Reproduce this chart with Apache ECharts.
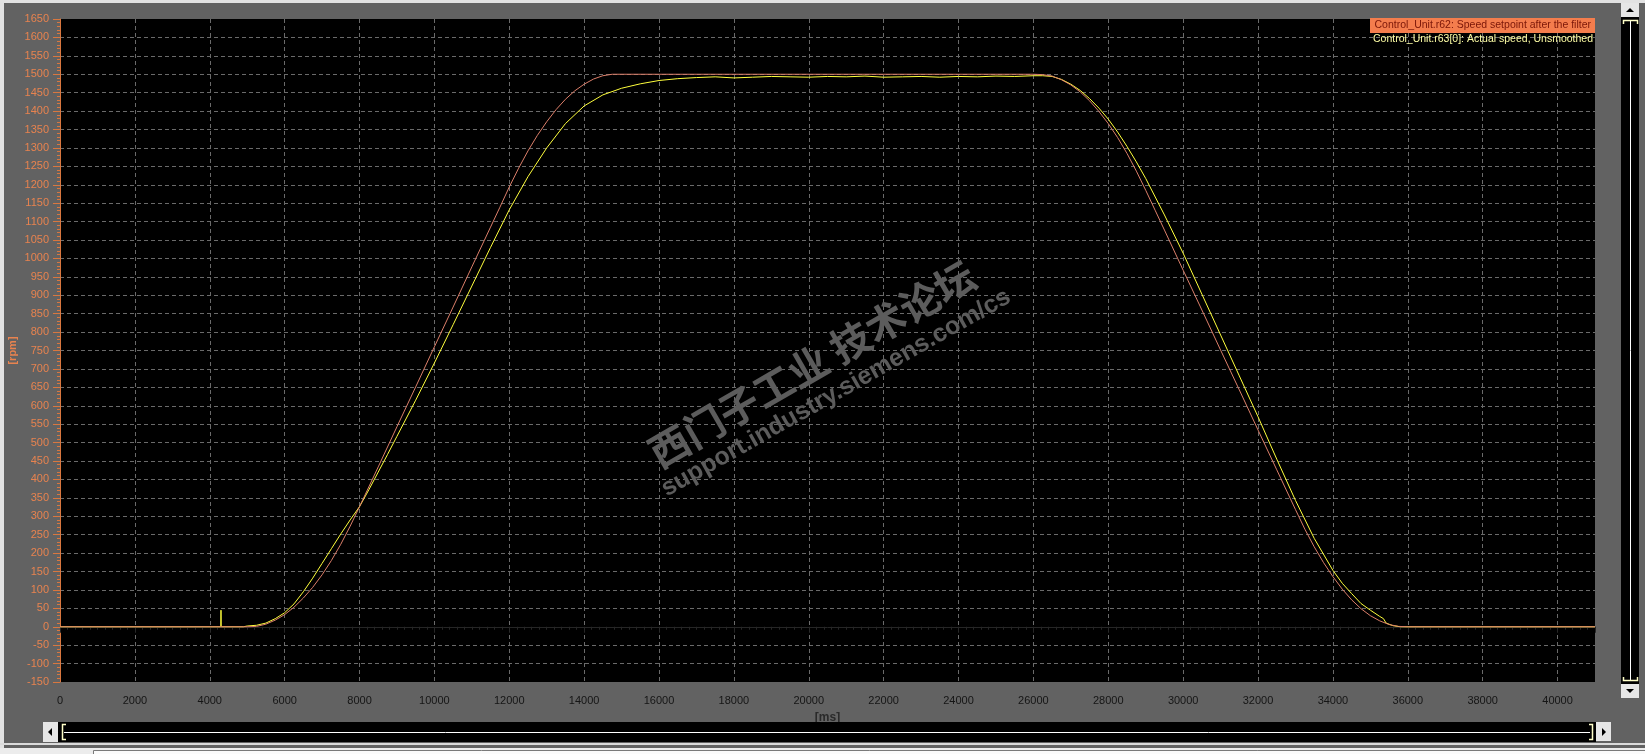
<!DOCTYPE html>
<html>
<head>
<meta charset="utf-8">
<script src="https://cdn.jsdelivr.net/npm/echarts@6/dist/echarts.min.js"></script>
<style>
html,body{margin:0;padding:0;background:#626262;}
#chart{width:1645px;height:754px;}
</style>
</head>
<body>
<div id="chart"></div>
<script>
// Legend / series names
var seriesNames = [
  'Control_Unit.r62: Speed setpoint after the filter',
  'Control_Unit.r63[0]: Actual speed, Unsmoothed'
];
// Setpoint (r62) : time [ms] and speed [rpm]
var setTimes = [0, 5000, 5250, 5500, 5750, 6000, 6250, 6500, 6750, 7000, 7250, 7500, 7750, 8000,
  8500, 9000, 9500, 10000, 10500, 11000, 11500,
  11750, 12000, 12250, 12500, 12750, 13000, 13250, 13500, 13750, 14000, 14250, 14500, 14750,
  26000, 26250, 26500, 26750, 27000, 27250, 27500, 27750, 28000, 28250, 28500, 28750, 29000, 29250, 29500,
  30000, 30500, 31000, 31500, 32000, 32500, 33000,
  33250, 33500, 33750, 34000, 34250, 34500, 34750, 35000, 35250, 35500, 35750, 36000, 41000];
var setRpm = [0, 0, 1, 7, 18, 33, 53, 78, 107, 141, 180, 224, 273, 326,
  434, 543, 651, 760, 868, 977, 1085,
  1139, 1194, 1245, 1292, 1334, 1371, 1404, 1432, 1455, 1473, 1487, 1496, 1500,
  1500, 1499, 1495, 1485, 1471, 1452, 1428, 1399, 1366, 1328, 1285, 1237, 1185, 1131, 1077,
  968, 860, 751, 643, 534, 426, 318,
  265, 217, 174, 136, 102, 73, 49, 30, 16, 6, 1, 0, 0];
// Actual speed (r63[0]) : time [ms] and speed [rpm]
var actTimes = [0, 4295, 4300, 4305, 4900,
  5000, 5250, 5500, 5750, 6000, 6250, 6500, 6750, 7000, 7250, 7500, 7750, 8000,
  8250, 8500, 8750, 9000,
  9500, 10000, 10500, 11000, 11500, 12000, 12500, 13000, 13500, 14000, 14500, 15000, 15500, 16000, 16500, 17000, 17500, 18000,
  18500, 19000, 19500, 20000, 20500, 21000, 21500, 22000, 22500, 23000, 23500, 24000, 24500, 25000, 25500, 26000,
  26250, 26500, 26750, 27000, 27250, 27500, 27750, 28000, 28250, 28500, 28750, 29000,
  29500, 30000, 30500, 31000, 31500, 32000, 32500, 33000, 33500, 34000,
  34250, 34500, 34750, 35000, 35250,
  35350, 35420, 35600, 35800, 41000];
var actRpm = [0, 0, 45, 0, 0,
  2, 4, 10, 22, 38, 62, 95, 132, 172, 212, 252, 290, 326,
  372, 420, 468, 517,
  615, 716, 820, 925, 1030, 1132, 1222, 1300, 1366, 1414, 1444, 1462, 1474, 1483, 1488, 1491, 1493, 1490,
  1492, 1494, 1493, 1492, 1494, 1493, 1495, 1492, 1493, 1494, 1492, 1494, 1493, 1495, 1494, 1496,
  1496, 1494, 1486, 1473, 1456, 1434, 1408, 1378, 1343, 1304, 1262, 1217,
  1118, 1014, 903, 792, 681, 570, 455, 343, 240, 153,
  118, 90, 63, 45, 28,
  22, 10, 3, 0, 0];
// Axis ranges
var xRange = [0, 41000, 2000];
var yRange = [-150, 1650, 50];
var axisNames = ['[ms]', '[rpm]'];
var watermark = ['西门子工业 技术论坛', 'support.industry.siemens.com/cs'];

function zip(a, b) { return a.map(function (t, i) { return [t, b[i]]; }); }
function plain(v) { return String(v); }

var FONT = '"Liberation Sans", Arial, sans-serif';
var orange = '#e8834f';
var gridColor = '#6a6a6a';

var chart = echarts.init(document.getElementById('chart'), null, {renderer: 'canvas'});
chart.setOption({
  animation: false,
  backgroundColor: '#626262',
  grid: {left: 60, top: 19, right: 50, bottom: 72, show: true, containLabel: false,
    outerBoundsMode: 'none', backgroundColor: '#000', borderWidth: 0},
  xAxis: {
    type: 'value', min: xRange[0], max: xRange[1], interval: xRange[2], offset: 4,
    name: axisNames[0], nameLocation: 'middle', nameGap: 26, nameMoveOverlap: false,
    nameTextStyle: {color: '#2a2a2a', fontSize: 12, fontWeight: 'bold', fontFamily: FONT},
    axisLine: {show: true, lineStyle: {color: '#262626', width: 1}},
    axisTick: {show: true, length: 6, lineStyle: {color: '#262626'}},
    minorTick: {show: true, splitNumber: 10, length: 3, lineStyle: {color: '#262626'}},
    axisLabel: {color: '#151515', fontSize: 11, fontFamily: FONT, margin: 9, showMaxLabel: false, formatter: plain},
    splitLine: {show: true, showMinLine: false, showMaxLine: false,
      lineStyle: {color: gridColor, width: 1, type: [4, 3]}}
  },
  yAxis: {
    type: 'value', min: yRange[0], max: yRange[1], interval: yRange[2], offset: 2,
    name: axisNames[1], nameLocation: 'middle', nameGap: 40, nameMoveOverlap: false,
    nameTextStyle: {color: orange, fontSize: 11, fontWeight: 'bold', fontFamily: FONT},
    axisLine: {show: true, lineStyle: {color: '#d9773f', width: 1}},
    axisTick: {show: true, length: 7, lineStyle: {color: '#d9773f'}},
    minorTick: {show: true, splitNumber: 5, length: 3, lineStyle: {color: '#d9773f'}},
    axisLabel: {color: orange, fontSize: 11, fontFamily: FONT, margin: 9, formatter: plain},
    splitLine: {show: true, showMinLine: false, showMaxLine: false,
      lineStyle: {color: gridColor, width: 1, type: [4, 3]}}
  },
  series: [
    {name: seriesNames[1], type: 'line', data: zip(actTimes, actRpm), showSymbol: false,
      lineStyle: {color: '#ffff3c', width: 1}, itemStyle: {color: '#ffff3c'}, z: 3},
    {name: seriesNames[0], type: 'line', data: zip(setTimes, setRpm), showSymbol: false,
      lineStyle: {color: '#dc7f6a', width: 1}, itemStyle: {color: '#dc7f6a'}, z: 4}
  ],
  graphic: [
    // window frame
    {type: 'rect', shape: {x: 0, y: 0, width: 1645, height: 3}, style: {fill: '#e2e2e2'}, z: 10, silent: true},
    {type: 'rect', shape: {x: 0, y: 0, width: 4, height: 754}, style: {fill: '#e2e2e2'}, z: 10, silent: true},
    {type: 'rect', shape: {x: 0, y: 743, width: 1645, height: 2}, style: {fill: '#dadada'}, z: 10, silent: true},
    {type: 'rect', shape: {x: 0, y: 748, width: 1645, height: 6}, style: {fill: '#ececec'}, z: 10, silent: true},
    {type: 'rect', shape: {x: 93.5, y: 750.5, width: 1560, height: 10}, style: {fill: '#fbfbfb', stroke: '#7a7a7a', lineWidth: 1}, z: 11, silent: true},
    // horizontal scrollbar
    {type: 'rect', shape: {x: 58, y: 722, width: 1538, height: 20}, style: {fill: '#000'}, z: 10, silent: true},
    {type: 'line', shape: {x1: 64, y1: 732.5, x2: 1590, y2: 732.5}, style: {stroke: '#ffffff', lineWidth: 1}, z: 11, silent: true},
    {type: 'polyline', shape: {points: [[66, 724.5], [62.5, 724.5], [62.5, 739.5], [66, 739.5]]}, style: {stroke: '#ffffc8', lineWidth: 1.5, fill: null}, z: 11, silent: true},
    {type: 'polyline', shape: {points: [[1589, 724.5], [1592.5, 724.5], [1592.5, 739.5], [1589, 739.5]]}, style: {stroke: '#ffffc8', lineWidth: 1.5, fill: null}, z: 11, silent: true},
    {type: 'rect', shape: {x: 43, y: 722, width: 15, height: 20}, style: {fill: '#e6e6e6'}, z: 11, silent: true},
    {type: 'polygon', shape: {points: [[52, 728], [52, 736], [48, 732]]}, style: {fill: '#000'}, z: 12, silent: true},
    {type: 'rect', shape: {x: 1596, y: 722, width: 15, height: 19}, style: {fill: '#e6e6e6'}, z: 11, silent: true},
    {type: 'polygon', shape: {points: [[1602, 728], [1602, 736], [1606, 732]]}, style: {fill: '#000'}, z: 12, silent: true},
    // vertical scrollbar
    {type: 'rect', shape: {x: 1621, y: 17, width: 18, height: 667}, style: {fill: '#000'}, z: 10, silent: true},
    {type: 'line', shape: {x1: 1630.5, y1: 21, x2: 1630.5, y2: 680}, style: {stroke: '#ffffff', lineWidth: 1}, z: 11, silent: true},
    {type: 'polyline', shape: {points: [[1623.5, 24], [1623.5, 20.5], [1637.5, 20.5], [1637.5, 24]]}, style: {stroke: '#ffffc8', lineWidth: 1.5, fill: null}, z: 11, silent: true},
    {type: 'polyline', shape: {points: [[1623.5, 677], [1623.5, 680.5], [1637.5, 680.5], [1637.5, 677]]}, style: {stroke: '#ffffc8', lineWidth: 1.5, fill: null}, z: 11, silent: true},
    {type: 'rect', shape: {x: 1621, y: 3, width: 18, height: 14}, style: {fill: '#e6e6e6'}, z: 11, silent: true},
    {type: 'polygon', shape: {points: [[1626, 12], [1634, 12], [1630, 8]]}, style: {fill: '#000'}, z: 12, silent: true},
    {type: 'rect', shape: {x: 1621, y: 684, width: 18, height: 14}, style: {fill: '#e6e6e6'}, z: 11, silent: true},
    {type: 'polygon', shape: {points: [[1626, 689], [1634, 689], [1630, 693]]}, style: {fill: '#000'}, z: 12, silent: true},
    // legend
    {type: 'rect', shape: {x: 1370, y: 18, width: 225, height: 15}, style: {fill: '#f47d4d'}, z: 10, silent: true},
    {type: 'text', x: 1591, y: 25.5, style: {text: seriesNames[0], fill: '#7a1608', font: '10.5px ' + FONT, textAlign: 'right', textVerticalAlign: 'middle'}, z: 11, silent: true},
    {type: 'text', x: 1593, y: 39.5, style: {text: seriesNames[1], fill: '#ffffa6', font: '10.5px ' + FONT, textAlign: 'right', textVerticalAlign: 'middle'}, z: 11, silent: true},
    // watermark
    {type: 'text', x: 812, y: 364, rotation: Math.PI / 6, style: {text: watermark[0], fill: '#5c5c5c', font: 'bold 40px "Noto Sans CJK SC", sans-serif', textAlign: 'center', textVerticalAlign: 'middle'}, z: 1, silent: true},
    {type: 'text', x: 836, y: 393, rotation: 0.515, style: {text: watermark[1], fill: '#5c5c5c', font: 'bold 25px "Liberation Sans", Arial, sans-serif', textAlign: 'center', textVerticalAlign: 'middle'}, z: 1, silent: true}
  ]
});
</script>
</body>
</html>
